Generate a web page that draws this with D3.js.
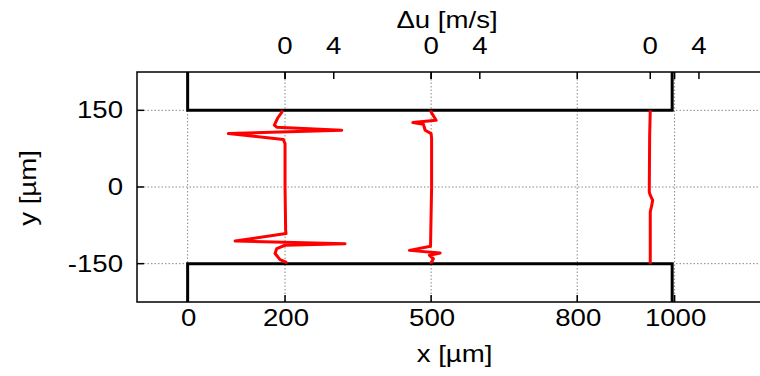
<!DOCTYPE html>
<html><head><meta charset="utf-8">
<script src="https://cdn.jsdelivr.net/npm/d3@7"></script>
<style>body{margin:0;background:#fff}text{font-family:"Liberation Sans",Arial,sans-serif;fill:#000}</style>
</head><body><svg id="c" width="760" height="376"></svg>
<script>
// ---- data ----
const xTicks = [0, 200, 500, 800, 1000];
const yTicks = [-150, 0, 150];
const duTicks = [0, 4];
const profileX = [200, 500, 950];
const wallX = [0, 995];
const wallY = [-150, 150];
// profiles: [y (µm), Δu (m/s)], top to bottom
const profile200 = [[150,-0.2],[146,-0.27],[135,-0.6],[121,-0.88],[117,-0.68],[111,4.66],[104.5,-4.66],[93,-0.14],[85,0],[0,0],[-85,0.05],[-91,0.08],[-105.7,-4.1],[-110.8,4.93],[-114,0],[-120.5,-0.68],[-130,-0.82],[-142,-0.41],[-147,0.08],[-150,0.1]];
const profile500 = [[150,0],[146.8,0],[130.5,0.41],[126,-1.5],[122.7,-0.63],[111,-0.49],[104.5,0],[95,0.04],[0,0.04],[-104.3,-0.04],[-116,-0.05],[-124,-1.78],[-129,0.74],[-133.6,-0.14],[-140,0.19],[-148.7,0],[-150,0]];
const profile950 = [[150,0],[100,-0.05],[-10,-0.08],[-16,0],[-26,0.2],[-36,0.12],[-49,0],[-100,0],[-150,0]];
const profiles = [profile200, profile500, profile950];
const duScale = 25; // µm per m/s on the x axis

// ---- layout ----
const svg = d3.select("#c");
const x = d3.scaleLinear().domain([-104, 1200]).range([137, 772]);
const y = d3.scaleLinear().domain([-225, 225]).range([302, 72]);
const L = 137, R = 772, T = 72, B = 302;
const fs = 23, sx = 1.2;

function label(txt, px, py, anchor, rot) {
  const g = svg.append("g").attr("transform", `translate(${px},${py})` + (rot ? ` rotate(${rot})` : "") + ` scale(${sx},1)`);
  g.append("text").attr("text-anchor", anchor).attr("font-size", fs).text(txt);
}

// grid
const grid = svg.append("g").attr("stroke", "#888").attr("stroke-width", 1).attr("stroke-dasharray", "1.5,2");
xTicks.forEach(v => grid.append("line").attr("x1", x(v)).attr("x2", x(v)).attr("y1", T).attr("y2", B));
yTicks.forEach(v => grid.append("line").attr("x1", L).attr("x2", R).attr("y1", y(v)).attr("y2", y(v)));

// walls
const wall = d3.line().x(d => x(d[0])).y(d => y(d[1]));
svg.append("path").attr("d", wall([[wallX[0], 225], [wallX[0], wallY[1]], [wallX[1], wallY[1]], [wallX[1], 225]]))
  .attr("fill", "none").attr("stroke", "#000").attr("stroke-width", 3);
svg.append("path").attr("d", wall([[wallX[0], -225], [wallX[0], wallY[0]], [wallX[1], wallY[0]], [wallX[1], -225]]))
  .attr("fill", "none").attr("stroke", "#000").attr("stroke-width", 3);

// profiles
profiles.forEach((p, i) => {
  const line = d3.line().x(d => x(profileX[i] + d[1] * duScale)).y(d => y(d[0]));
  svg.append("path").attr("d", line(p)).attr("fill", "none").attr("stroke", "#ff0000")
    .attr("stroke-width", 3).attr("stroke-linejoin", "round");
});

// frame
svg.append("rect").attr("x", L).attr("y", T).attr("width", R - L).attr("height", B - T)
  .attr("fill", "none").attr("stroke", "#000").attr("stroke-width", 1.5);

// ticks
const tk = svg.append("g").attr("stroke", "#000").attr("stroke-width", 1.5);
xTicks.forEach(v => {
  tk.append("line").attr("x1", x(v)).attr("x2", x(v)).attr("y1", B).attr("y2", B - 7);
  tk.append("line").attr("x1", x(v)).attr("x2", x(v)).attr("y1", T).attr("y2", T + 7);
  label(String(v), x(v) + 1, 326, "middle");
});
yTicks.forEach(v => {
  tk.append("line").attr("x1", L).attr("x2", L + 7).attr("y1", y(v)).attr("y2", y(v));
  label(String(v), 123, y(v) + 8, "end");
});
profileX.forEach(p0 => {
  duTicks.forEach(d => {
    const px = x(p0 + d * duScale);
    tk.append("line").attr("x1", px).attr("x2", px).attr("y1", T).attr("y2", T + 7);
    label(String(d), px, 54, "middle");
  });
});

// axis titles
label("x [µm]", (L + R) / 2, 362, "middle");
label("Δu [m/s]", 447, 28, "middle");
label("y [µm]", 36, 188, "middle", -90);
</script></body></html>
